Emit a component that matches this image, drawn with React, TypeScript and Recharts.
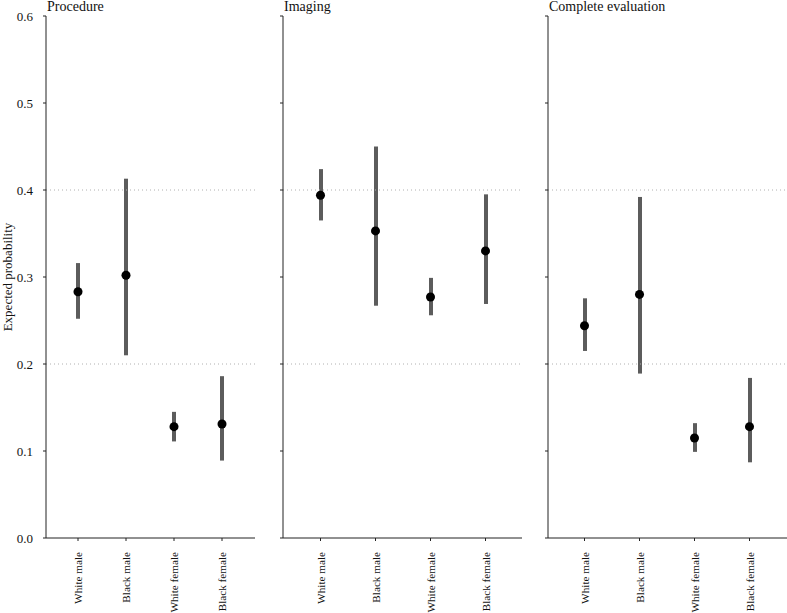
import React from "react";
import {
  Bar,
  ComposedChart,
  Label,
  ReferenceLine,
  Scatter,
  XAxis,
  YAxis,
} from "recharts";

const categories = ["White male", "Black male", "White female", "Black female"];
const panelTitles = ["Procedure", "Imaging", "Complete evaluation"];

const procedureEst = [0.283, 0.302, 0.128, 0.131];
const procedureLow = [0.252, 0.21, 0.111, 0.089];
const procedureHigh = [0.316, 0.413, 0.145, 0.186];

const imagingEst = [0.394, 0.353, 0.277, 0.33];
const imagingLow = [0.365, 0.267, 0.256, 0.269];
const imagingHigh = [0.424, 0.45, 0.299, 0.395];

const completeEst = [0.244, 0.28, 0.115, 0.128];
const completeLow = [0.215, 0.189, 0.099, 0.087];
const completeHigh = [0.2755, 0.392, 0.132, 0.184];

const yTicks = [0, 0.1, 0.2, 0.3, 0.4, 0.5, 0.6];
const gridValues = [0.2, 0.4];

const FONT = "'Liberation Serif', 'Times New Roman', serif";

const build = (est: number[], low: number[], high: number[]) =>
  categories.map((c, i) => ({ cat: c, est: est[i], range: [low[i], high[i]] }));

const panels = [
  { title: panelTitles[0], data: build(procedureEst, procedureLow, procedureHigh) },
  { title: panelTitles[1], data: build(imagingEst, imagingLow, imagingHigh) },
  { title: panelTitles[2], data: build(completeEst, completeLow, completeHigh) },
];

// chart box per panel: left offset, width, y-axis width, right margin, x padding
const layout = [
  { left: 0, width: 258, axisW: 46, right: 3, pad: { left: 8, right: 9 } },
  { left: 258, width: 267, axisW: 25, right: 3, pad: { left: 10, right: 9 } },
  { left: 525, width: 262, axisW: 23, right: 0, pad: { left: 9, right: 10 } },
];

const CatTick = (props: any) => {
  const { x, y, payload } = props;
  return (
    <text
      x={x}
      y={y}
      transform={`rotate(-90 ${x} ${y})`}
      textAnchor="end"
      dominantBaseline="central"
      fontSize={11.2}
      fontFamily={FONT}
      fill="#111"
    >
      {payload.value}
    </text>
  );
};

export default function App() {
  return (
    <div
      style={{
        position: "absolute",
        left: 0,
        top: 0,
        width: 787,
        height: 613,
        background: "#fff",
        fontFamily: FONT,
      }}
    >
      {panels.map((p, idx) => {
        const l = layout[idx];
        return (
          <div key={p.title} style={{ position: "absolute", left: l.left, top: 0 }}>
            <div
              style={{
                position: "absolute",
                left: l.axisW + 1,
                top: 0,
                fontSize: 14,
                lineHeight: "14px",
                whiteSpace: "nowrap",
                color: "#111",
              }}
            >
              {p.title}
            </div>
            <ComposedChart
              width={l.width}
              height={613}
              data={p.data}
              margin={{ top: 16, right: l.right, bottom: 5, left: 0 }}
            >
              {gridValues.map((g) => (
                <ReferenceLine
                  key={g}
                  y={g}
                  stroke="#b0b0b0"
                  strokeDasharray="1 3"
                  strokeWidth={1}
                />
              ))}
              <XAxis
                dataKey="cat"
                type="category"
                height={70}
                padding={l.pad}
                tickSize={3}
                tickMargin={11}
                tick={<CatTick />}
                stroke="#222"
                interval={0}
              />
              <YAxis
                type="number"
                domain={[0, 0.6]}
                ticks={yTicks}
                width={l.axisW}
                tickSize={3}
                tickMargin={10}
                stroke="#222"
                tick={{ fontSize: 13, fontFamily: FONT, fill: "#111" }}
                tickFormatter={(v: number) => (idx === 0 ? v.toFixed(1) : "")}
              >
                {idx === 0 && (
                  <Label
                    value="Expected probability"
                    angle={-90}
                    position="insideLeft"
                    offset={7}
                    style={{ textAnchor: "middle", fontSize: 13, fontFamily: FONT, fill: "#111" }}
                  />
                )}
              </YAxis>
              <Bar dataKey="range" barSize={4} fill="#5c5c5c" isAnimationActive={false} />
              <Scatter dataKey="est" fill="#000" isAnimationActive={false} />
            </ComposedChart>
          </div>
        );
      })}
    </div>
  );
}
